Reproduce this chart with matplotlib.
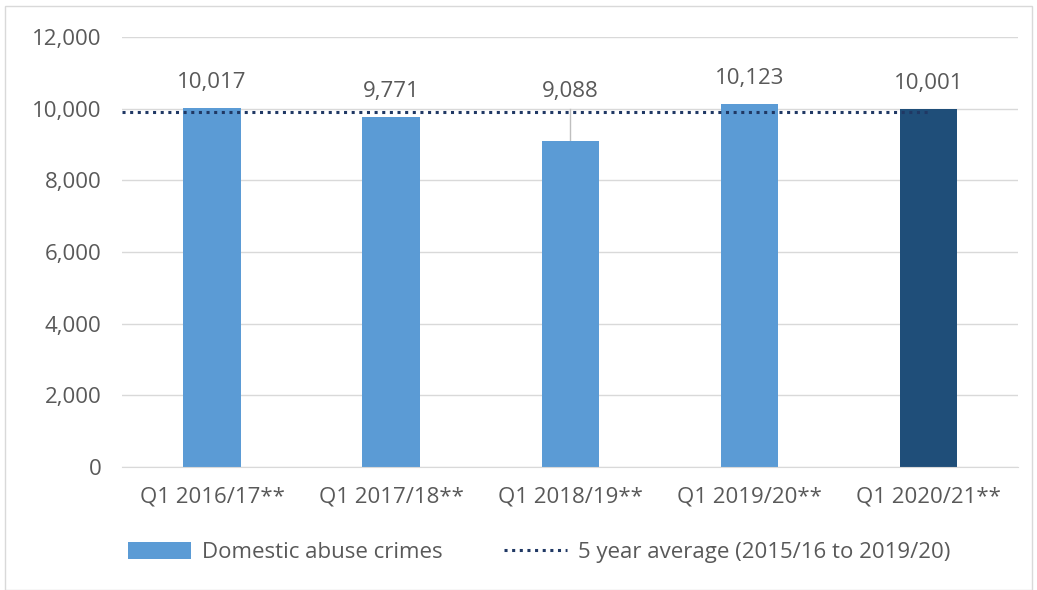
import matplotlib.pyplot as plt
from matplotlib.patches import Rectangle

# data
periods = ["Q1 2016/17**", "Q1 2017/18**", "Q1 2018/19**", "Q1 2019/20**", "Q1 2020/21**"]
crimes = [10017, 9771, 9088, 10123, 10001]
avg_5yr = 9900
yticks = [0, 2000, 4000, 6000, 8000, 10000, 12000]

light = "#5B9BD5"
dark = "#1F4E79"
grey_txt = "#595959"

plt.rcParams['font.family'] = ['Open Sans', 'DejaVu Sans']

fig = plt.figure(figsize=(10.37, 5.9), dpi=100)
ax = fig.add_axes([0.118, 0.2085, 0.864, 0.7285])

x = list(range(len(periods)))
cols = [light] * (len(periods) - 1) + [dark]
bars = ax.bar(x, crimes, width=0.32, color=cols, zorder=2)

avg_line, = ax.plot([-0.5, 4], [avg_5yr, avg_5yr], linestyle=(0, (1, 1.5)), color="#203864",
                    linewidth=2.2, zorder=3)

# data labels
for i, v in enumerate(crimes):
    if i == 2:
        ly = 10326
        ax.plot([i, i], [v, 10000], color="#BFBFBF", linewidth=1, zorder=1)
    else:
        ly = v + 560
    ax.text(i, ly, f"{v:,}", ha="center", va="baseline", fontsize=16, color=grey_txt)

ax.set_xlim(-0.5, 4.5)
ax.set_ylim(0, 12000)
ax.set_yticks(yticks)
ax.set_yticklabels([f"{t:,}" for t in yticks])
ax.set_xticks(x)
ax.set_xticklabels(periods)
ax.tick_params(axis="both", length=0, labelsize=16, colors=grey_txt)
ax.tick_params(axis="y", pad=15)
ax.tick_params(axis="x", pad=14)
ax.grid(axis="y", color="#D9D9D9", linewidth=1, zorder=0)
ax.set_axisbelow(True)
for s in ["top", "right", "left"]:
    ax.spines[s].set_visible(False)
ax.spines["bottom"].set_color("#D9D9D9")

leg = fig.legend([bars[0], avg_line],
                 ["Domestic abuse crimes", "5 year average (2015/16 to 2019/20)"],
                 loc="center", bbox_to_anchor=(0.52, 0.063), ncol=2,
                 frameon=False, fontsize=16, handlelength=2.8, handleheight=0.8,
                 handletextpad=0.5, columnspacing=2.8)
for t in leg.get_texts():
    t.set_color(grey_txt)

# outer chart border
fig.patches.append(Rectangle((0.005, 0.0), 0.99, 0.99, transform=fig.transFigure,
                             fill=False, edgecolor="#D9D9D9", linewidth=1))

fig.savefig("out.png", dpi=100)
